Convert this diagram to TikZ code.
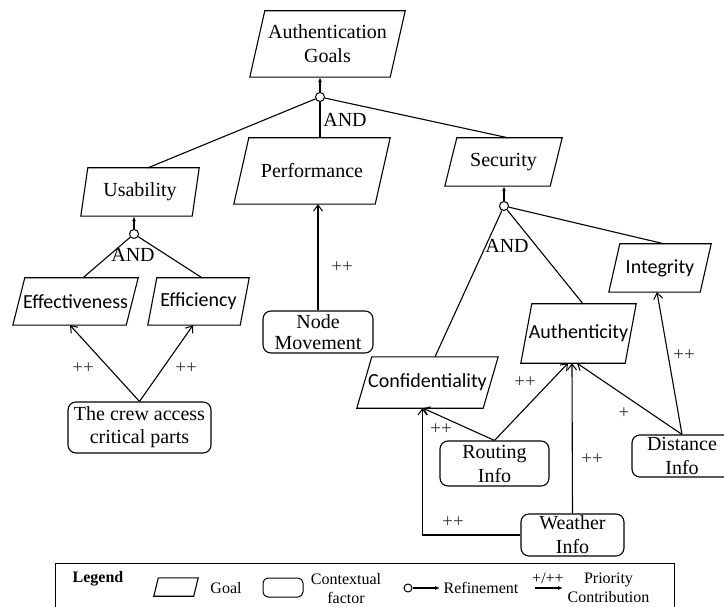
\documentclass[tikz,border=0pt]{standalone}
\usepackage{fontspec}
\setmainfont{Liberation Serif}
\newfontfamily\calfont{Carlito}
\usetikzlibrary{arrows.meta}
\newcommand{\paraframe}[2]{%
  \draw[frame] ([xshift=#2pt]#1.north west) -- (#1.north east) -- ([xshift=-#2pt]#1.south east) -- (#1.south west) -- cycle;}
\begin{document}
\begin{tikzpicture}[x=1pt,y=-1pt,
  frame/.style={line width=1.1pt, line join=miter},
  goalbox/.style={inner sep=0pt, align=center, font=\fontsize{20}{24}\selectfont},
  sansgoal/.style={goalbox, font=\calfont\fontsize{20}{24}\selectfont},
  ctxbox/.style={draw, line width=1.1pt, rounded corners=8pt, inner sep=0pt, align=center, font=\fontsize{20}{23}\selectfont},
  refc/.style={circle, draw, fill=white, line width=1pt, minimum size=9pt, inner sep=0pt},
  refarrow/.style={line width=1.1pt, -{Latex[length=5pt,width=4pt]}},
  contr/.style={line width=1.1pt, -{Straight Barb[length=6pt,width=9pt,line width=1pt]}},
  contlab/.style={inner sep=0pt, text=black!80, font=\fontsize{19}{19}\selectfont},
  andlab/.style={inner sep=0pt, font=\fontsize{20}{24}\selectfont},
  leglab/.style={inner sep=0pt, align=center, font=\fontsize{16}{19}\selectfont}]
\useasboundingbox (0,0) rectangle (724,607);

% goals
\node[goalbox, minimum width=155pt, minimum height=66pt] (ag) at (327.5,44) {Authentication\\Goals};
\paraframe{ag}{15}
\node[goalbox, minimum width=156pt, minimum height=66pt] (perf) at (312,171) {Performance};
\paraframe{perf}{15}
\node[goalbox, minimum width=118pt, minimum height=48pt] (usab) at (140,192) {Usability};
\paraframe{usab}{7}
\node[sansgoal, minimum width=125pt, minimum height=47pt] (eff) at (75.5,301.5) {Effectiveness};
\paraframe{eff}{12}
\node[sansgoal, minimum width=101pt, minimum height=47pt] (effic) at (198.5,301.5) {Efficiency};
\paraframe{effic}{9}
\node[goalbox, minimum width=117pt, minimum height=48pt] (sec) at (503.5,162) {Security};
\paraframe{sec}{12}
\node[sansgoal, minimum width=102pt, minimum height=48pt] (integ) at (660,268) {Integrity};
\paraframe{integ}{11}
\node[sansgoal, minimum width=115pt, minimum height=59pt] (auth) at (578.5,333.5) {Authenticity};
\paraframe{auth}{11}
\node[sansgoal, minimum width=141pt, minimum height=51pt] (conf) at (427.5,382.5) {Confidentiality};
\paraframe{conf}{15}

% contextual factors
\node[ctxbox, minimum width=143pt, minimum height=51pt] (crew) at (139.5,427.5) {The crew access\\critical parts};
\node[ctxbox, minimum width=110pt, minimum height=42pt, font=\fontsize{20}{21}\selectfont] (nodemov) at (318,332) {Node\\Movement};
\node[ctxbox, minimum width=109pt, minimum height=45pt, font=\fontsize{20}{24}\selectfont] (routing) at (494.5,463.5) {Routing\\Info};
\node[ctxbox, minimum width=103pt, minimum height=42pt, font=\fontsize{20}{24}\selectfont] (weather) at (572.5,535) {Weather\\Info};
\node[ctxbox, minimum width=100pt, minimum height=42pt, font=\fontsize{20}{24}\selectfont] (distance) at (682,456) {Distance\\Info};

% refinements
\node[refc] (c1) at (320,97) {};
\draw[refarrow] (c1) -- ([xshift=-7.5pt]ag.south);
\draw[frame] (c1) -- ([xshift=8pt]usab.north);
\draw[frame] (c1) -- ([xshift=8pt]perf.north);
\draw[frame] (c1) -- ([xshift=4.5pt]sec.north);
\node[andlab] at (345,120) {AND};

\node[refc] (c2) at (134,234) {};
\draw[refarrow] (c2) -- ([xshift=-6pt]usab.south);
\draw[frame] (c2) -- ([xshift=7.5pt]eff.north);
\draw[frame] (c2) -- ([xshift=3.5pt]effic.north);
\node[andlab] at (133,255) {AND};

\node[refc] (c3) at (504,206) {};
\draw[refarrow] (c3) -- ([xshift=0.5pt]sec.south);
\draw[frame] (c3) -- ([xshift=7.5pt]conf.north);
\draw[frame] (c3) -- ([xshift=4.5pt]auth.north);
\draw[frame] (c3) -- ([xshift=4pt]integ.north);
\node[andlab] at (507,246) {AND};

% contributions
\draw[contr] (crew.north) -- ([xshift=-5.5pt]eff.south);
\draw[contr] (crew.north) -- ([xshift=-5.5pt]effic.south);
\node[contlab] at (83,368) {++};
\node[contlab] at (186,368) {++};

\draw[contr] (nodemov.north) -- ([xshift=6pt]perf.south);
\node[contlab] at (342,267) {++};

\draw[contr] (routing.north) -- ([xshift=-10.5pt]auth.south);
\node[contlab] at (525,382) {++};
\draw[contr] (routing.north) -- ([xshift=-4.5pt]conf.south);
\node[contlab] at (441,429) {++};

\draw[contr] (weather.north) -- ([xshift=-6.5pt]auth.south);
\node[contlab] at (592,459) {++};
\draw[contr] (weather.west) -| ([xshift=-5pt]conf.south);
\node[contlab] at (453,522) {++};

\draw[contr] (distance.north) -- ([xshift=-3pt]integ.south);
\node[contlab] at (684,355) {++};
\draw[contr] (distance.north) -- ([xshift=-1.5pt]auth.south);
\node[contlab] at (624,413) {+};

% legend
\node[draw, line width=1.1pt, minimum width=619pt, minimum height=62pt, anchor=north west, inner sep=0pt] (legend) at (55,563) {};
\node[leglab, font=\bfseries\fontsize{16}{19}\selectfont] (legt) at (98,579) {Legend};
\node[inner sep=0pt, minimum width=44pt, minimum height=18pt] (lg) at (176,587) {};
\paraframe{lg}{4.5}
\node[leglab] (lgt) at (226,588) {Goal};
\node[draw, line width=1pt, rounded corners=5pt, minimum width=40pt, minimum height=19pt, inner sep=0pt] (lctx) at (283,587.5) {};
\node[leglab] (lctxt) at (346,588.5) {Contextual\\factor};
\node[refc, minimum size=8pt] (lc) at (408,588) {};
\coordinate (la) at (440,588);
\draw[refarrow] (lc) -- (la);
\node[leglab] (lreft) at (481,588) {Refinement};
\node[leglab] (lplus) at (548,578) {+/++};
\coordinate (lb1) at (535,588);
\coordinate (lb2) at (563,588);
\draw[refarrow] (lb1) -- (lb2);
\node[leglab] (lprio) at (608.5,587.5) {Priority\\Contribution};
\end{tikzpicture}
\end{document}
